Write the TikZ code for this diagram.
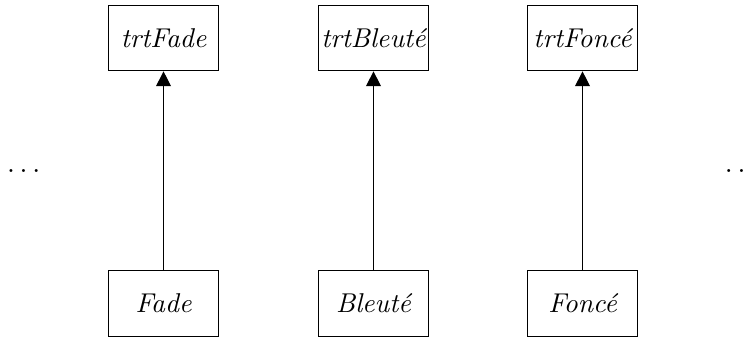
\documentclass[tikz,border=0pt]{standalone}
\usepackage{amsmath}
\usepackage{tikz}
\usetikzlibrary{arrows.meta}
\usepackage{xcolor}

\begin{document}
\begin{tikzpicture}[
  trtbox/.style={draw, minimum width=1.5cm, minimum height=0.89cm, inner xsep=1pt, font=\fontsize{10.5}{13}\selectfont\itshape},
  fleche/.style={-{Triangle[length=2mm,width=2mm]}}
]
\useasboundingbox (0,0) rectangle (10.2,4.612);

% top row
\node[trtbox] (trtFade) at (2.218,4.096) {trtFade};
\node[trtbox] (trtBleute) at (5.066,4.096) {trtBleut\'e};
\node[trtbox] (trtFonce) at (7.901,4.096) {trtFonc\'e};

% bottom row
\node[trtbox] (Fade) at (2.218,0.495) {Fade};
\node[trtbox] (Bleute) at (5.066,0.495) {Bleut\'e};
\node[trtbox] (Fonce) at (7.901,0.495) {Fonc\'e};

% dots on both sides
\node[font=\fontsize{10.9}{13}\selectfont] (gauche) at (0.353,2.29) {$\dots$};
\node[font=\fontsize{10.9}{13}\selectfont] (droite) at (10.09,2.29) {$\dots$};

\draw[fleche] (Fade) -- (trtFade);
\draw[fleche] (Bleute) -- (trtBleute);
\draw[fleche] (Fonce) -- (trtFonce);
\end{tikzpicture}
\end{document}
